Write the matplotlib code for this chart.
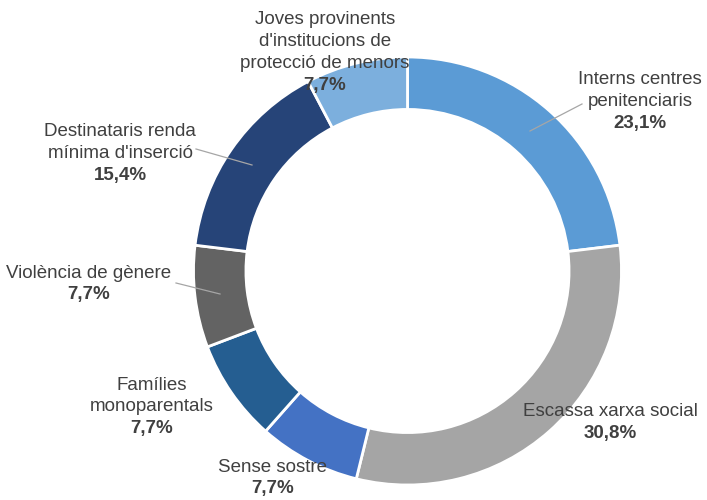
import matplotlib.pyplot as plt

# dades del gràfic
categories = [
    "Interns centres\npenitenciaris",
    "Escassa xarxa social",
    "Sense sostre",
    "Famílies\nmonoparentals",
    "Violència de gènere",
    "Destinataris renda\nmínima d'inserció",
    "Joves provinents\nd'institucions de\nprotecció de menors",
]
percents = [23.1, 30.8, 7.7, 7.7, 7.7, 15.4, 7.7]
colors = ["#5B9BD5", "#A5A5A5", "#4472C4", "#255E91", "#636363", "#264478", "#7CAFDD"]

# posició (x, y de la primera línia) en píxels, y des de dalt
label_pos = [(640, 80), (610, 412), (273, 467), (152, 385), (89, 273), (120, 132), (325, 20)]
leaders = {0: ((582, 104), (530, 131)), 4: ((176, 283), (220, 294)), 5: ((196, 149), (252, 165))}

plt.rcParams['font.family'] = ['Liberation Sans', 'DejaVu Sans']
text_color = "#404040"
line_h = 21.8

fig = plt.figure(figsize=(7.07, 5), dpi=100)
ax = fig.add_axes([0, 0, 1, 1])

cx, cy, r = 407.5, 500 - 271, 214
ax.pie(percents, colors=colors, startangle=90, counterclock=False,
       center=(cx, cy), radius=r, frame=True,
       wedgeprops=dict(width=r * 0.245, edgecolor="white", linewidth=2))
ax.set_xlim(0, 707)
ax.set_ylim(0, 500)
ax.set_aspect("equal")
ax.axis("off")

for i, (name, val) in enumerate(zip(categories, percents)):
    x, y0 = label_pos[i]
    lines = name.split("\n")
    for k, line in enumerate(lines):
        ax.text(x, 500 - (y0 + k * line_h), line, ha="center", va="center",
                fontsize=13.5, color=text_color)
    pct = f"{val:.1f}".replace(".", ",") + "%"
    ax.text(x, 500 - (y0 + len(lines) * line_h), pct, ha="center", va="center",
            fontsize=13.5, color=text_color, fontweight="bold")

for i, (p0, p1) in leaders.items():
    ax.plot([p0[0], p1[0]], [500 - p0[1], 500 - p1[1]], color="#A6A6A6", lw=0.9)

fig.savefig("out.png", dpi=100)
